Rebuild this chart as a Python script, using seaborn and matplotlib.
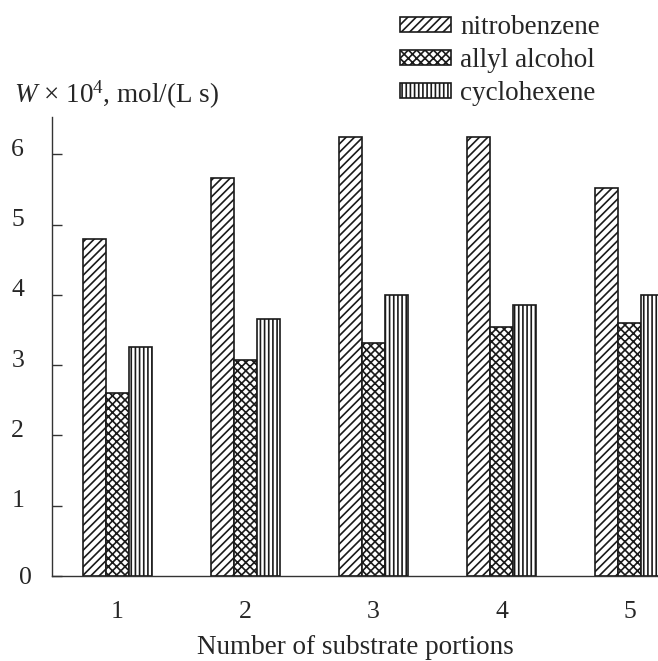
import pandas as pd
import matplotlib
matplotlib.use("Agg")
import matplotlib.pyplot as plt
import matplotlib.transforms as mtransforms
import seaborn as sns

# values
portions = ["1", "2", "3", "4", "5"]
nitrobenzene = [4.80, 5.66, 6.24, 6.24, 5.52]
allyl_alcohol = [2.60, 3.07, 3.32, 3.54, 3.60]
cyclohexene = [3.26, 3.65, 4.00, 3.86, 4.00]
substrates = ["nitrobenzene", "allyl alcohol", "cyclohexene"]
hatches = ["////", "xxxx", "||||"]

df = pd.DataFrame({
    "portion": portions * 3,
    "W": nitrobenzene + allyl_alcohol + cyclohexene,
    "substrate": [s for s in substrates for _ in portions],
})

sns.set_style("ticks")
plt.rcParams["font.family"] = ["Liberation Serif", "DejaVu Serif"]
plt.rcParams["mathtext.fontset"] = "custom"
plt.rcParams["mathtext.rm"] = "Liberation Serif"
plt.rcParams["mathtext.it"] = "Liberation Serif:italic"
plt.rcParams["hatch.linewidth"] = 1.2
plt.rcParams["hatch.color"] = "black"

fig = plt.figure(figsize=(6.58, 6.61), dpi=100)
ax = fig.add_axes([52 / 658, 1 - 576 / 661, 1 - 52 / 658, (576 - 117) / 661])

sns.barplot(data=df, x="portion", y="W", hue="substrate",
            palette=["white"] * 3, edgecolor="#1a1a1a", linewidth=1.2,
            width=0.54, gap=0, legend=False, ax=ax)

for cont, h, lab in zip(ax.containers, hatches, substrates):
    cont.set_label(lab)
    for p in cont:
        p.set_hatch(h)

ax.set_xlim(-0.51, 4.22)
ax.set_ylim(0, 6.53)
ax.set_yticks(range(0, 7))
ax.set_xlabel("Number of substrate portions", fontsize=19.5, labelpad=9)
ax.set_ylabel("")
ax.tick_params(axis="both", direction="in", length=7, width=1,
               color="#333333", labelsize=18.5)
ax.tick_params(axis="y", pad=20)
ax.tick_params(axis="x", pad=18)
for side in ["top", "right"]:
    ax.spines[side].set_visible(False)
for side in ["left", "bottom"]:
    ax.spines[side].set_color("#333333")
    ax.spines[side].set_linewidth(1.0)

# y tick labels sit a little above their ticks, "0" sits lower and to the right
fig.canvas.draw()
for lab in ax.get_yticklabels():
    if lab.get_text() == "0":
        off = mtransforms.ScaledTranslation(8 / 100, 0, fig.dpi_scale_trans)
    else:
        off = mtransforms.ScaledTranslation(0, 7 / 100, fig.dpi_scale_trans)
    lab.set_transform(lab.get_transform() + off)

fig.text(14 / 658, 1 - 103 / 661, r"$W$ × 10$^4$, mol/(L s)",
         fontsize=19.5, ha="left", va="baseline")

fig.legend(handles=list(ax.containers), labels=substrates,
           loc="upper left", bbox_to_anchor=(400 / 658, 1 - 15 / 661),
           frameon=False, fontsize=19.5, borderpad=0, borderaxespad=0,
           handlelength=1.9, handleheight=0.5, handletextpad=0.33,
           labelspacing=0.3)

fig.savefig("out.png", dpi=100)
